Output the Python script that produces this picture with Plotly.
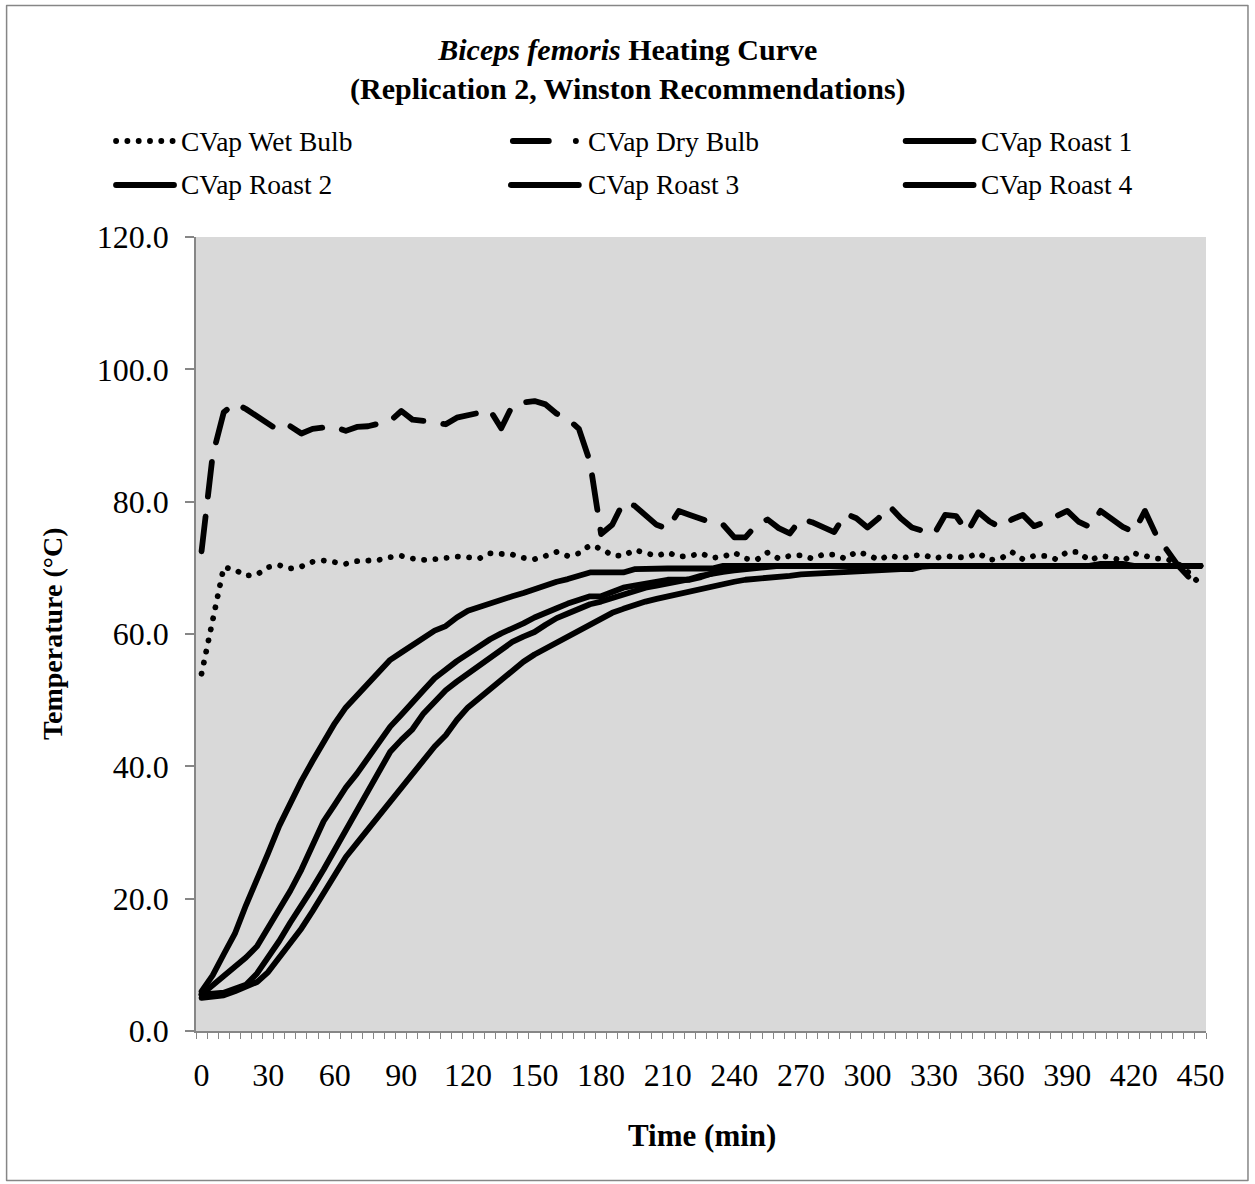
import plotly.graph_objects as go

# Sampling times (min), one reading every 5 minutes
time_min = list(range(0, 455, 5))

wet_bulb = [
    54.0, 62.5, 70.1, 69.7, 68.8, 69.0, 70.1, 70.4, 69.9, 70.2,
    70.9, 71.1, 70.9, 70.6, 71.0, 71.1, 71.2, 71.6, 71.8, 71.4,
    71.2, 71.3, 71.6, 71.7, 71.6, 71.4, 72.2, 72.2, 72.0, 71.5,
    71.3, 71.8, 72.4, 71.8, 72.2, 73.4, 72.9, 71.9, 71.8, 72.7,
    72.2, 71.8, 72.3, 71.7, 71.8, 72.2, 71.5, 71.7, 72.3, 71.4,
    71.2, 72.3, 71.4, 71.8, 71.9, 71.4, 72.0, 72.0, 71.4, 72.4,
    72.0, 71.2, 71.9, 71.4, 71.8, 72.0, 71.4, 71.8, 71.6, 71.6,
    72.2, 71.2, 71.4, 72.4, 71.3, 71.8, 71.8, 71.3, 72.4, 72.4,
    71.1, 71.8, 71.6, 71.0, 72.2, 71.8, 71.4, 71.3, 70.6, 69.2,
    67.5,
]

dry_bulb = [
    72.5, 87.0, 93.5, 94.9, 94.0, 92.8, 91.8, 90.7, 91.4, 90.3,
    91.0, 91.2, 91.3, 90.7, 91.3, 91.4, 91.8, 92.2, 93.7, 92.4,
    92.2, 92.0, 91.7, 92.7, 93.0, 93.5, 93.8, 91.1, 94.5, 95.0,
    95.2, 94.7, 93.3, 92.5, 91.0, 86.0, 75.1, 76.5, 79.9, 79.4,
    78.0, 76.5, 75.9, 78.6, 78.0, 77.3, 76.8, 76.5, 74.6, 74.6,
    76.5, 77.3, 76.0, 75.2, 77.4, 76.9, 76.2, 75.4, 78.2, 77.5,
    76.1, 77.5, 79.3, 77.5, 76.1, 75.5, 75.1, 78.0, 77.8, 75.4,
    78.4, 77.0, 76.1, 77.3, 78.0, 76.3, 76.9, 77.8, 78.6, 77.0,
    76.2, 78.6, 77.3, 76.2, 75.4, 78.6, 75.0, 72.5, 70.3, 68.5,
    66.7,
]

roast_1 = [
    6.0, 8.4, 11.6, 14.7, 19.0, 23.2, 26.9, 31.0, 34.5, 37.8,
    40.8, 43.7, 46.5, 48.9, 50.7, 52.7, 54.4, 56.1, 57.2, 58.3,
    59.4, 60.5, 61.2, 62.5, 63.5, 64.1, 64.7, 65.2, 65.7, 66.2,
    66.8, 67.4, 67.9, 68.3, 68.8, 69.3, 69.3, 69.3, 69.3, 69.8,
    69.9, 69.9, 69.9, 69.9, 69.9, 69.9, 69.9, 70.3, 70.3, 70.3,
    70.3, 70.3, 70.3, 70.3, 70.3, 70.3, 70.3, 70.3, 70.3, 70.3,
    70.3, 70.3, 70.3, 70.3, 70.3, 70.3, 70.3, 70.3, 70.3, 70.3,
    70.3, 70.3, 70.3, 70.3, 70.3, 70.3, 70.3, 70.3, 70.3, 70.3,
    70.3, 70.3, 70.3, 70.3, 70.3, 70.3, 70.3, 70.3, 70.3, 70.3,
    70.3,
]

roast_2 = [
    5.5, 6.8, 8.3, 9.7, 11.1, 12.8, 15.5, 18.5, 21.2, 24.4,
    28.3, 31.7, 34.2, 36.8, 38.9, 41.3, 43.7, 46.0, 47.8, 49.5,
    51.5, 53.3, 54.7, 55.9, 57.0, 58.2, 59.2, 60.1, 60.8, 61.6,
    62.5, 63.3, 63.9, 64.6, 65.2, 65.7, 65.7, 66.3, 67.0, 67.3,
    67.6, 67.9, 68.2, 68.2, 68.2, 68.6, 69.2, 69.7, 70.0, 70.2,
    70.3, 70.3, 70.3, 70.3, 70.3, 70.3, 70.3, 70.3, 70.3, 70.3,
    70.3, 70.3, 70.3, 70.3, 70.3, 70.3, 70.3, 70.3, 70.3, 70.3,
    70.3, 70.3, 70.3, 70.3, 70.3, 70.3, 70.3, 70.3, 70.3, 70.3,
    70.3, 70.6, 70.7, 70.6, 70.3, 70.3, 70.3, 70.3, 70.3, 70.3,
    70.3,
]

roast_3 = [
    5.5, 5.6, 5.8, 6.4, 7.0, 8.7, 11.0, 13.6, 16.4, 18.9,
    21.6, 24.4, 27.3, 30.2, 33.2, 36.0, 39.2, 42.2, 44.0, 45.6,
    48.0, 49.9, 51.5, 52.8, 54.0, 55.4, 56.6, 57.7, 58.8, 59.6,
    60.3, 61.4, 62.4, 63.1, 63.8, 64.5, 64.9, 65.4, 66.0, 66.6,
    67.0, 67.3, 67.6, 67.8, 68.3, 68.8, 69.2, 69.4, 69.6, 69.8,
    70.0, 70.3, 70.3, 70.3, 70.3, 70.3, 70.3, 70.3, 70.3, 70.3,
    70.3, 70.3, 70.3, 70.3, 70.3, 70.3, 70.3, 70.3, 70.3, 70.3,
    70.3, 70.3, 70.3, 70.3, 70.3, 70.3, 70.3, 70.3, 70.3, 70.3,
    70.3, 70.3, 70.3, 70.3, 70.3, 70.3, 70.3, 70.3, 70.3, 70.3,
    70.3,
]

roast_4 = [
    5.0, 5.3, 5.4, 6.0, 6.6, 7.4, 8.9, 11.0, 13.3, 15.5,
    18.1, 20.8, 23.6, 26.3, 28.4, 30.5, 32.8, 34.8, 36.8, 39.0,
    41.2, 43.0, 44.7, 47.0, 48.9, 50.3, 51.8, 53.2, 54.6, 55.8,
    56.9, 57.8, 58.7, 59.6, 60.5, 61.4, 62.4, 63.2, 63.8, 64.4,
    64.9, 65.3, 65.7, 66.1, 66.5, 66.9, 67.3, 67.6, 67.9, 68.2,
    68.3, 68.5, 68.7, 68.8, 69.0, 69.1, 69.3, 69.3, 69.4, 69.5,
    69.6, 69.6, 69.7, 69.8, 69.8, 70.2, 70.3, 70.3, 70.3, 70.3,
    70.3, 70.3, 70.3, 70.3, 70.3, 70.3, 70.3, 70.3, 70.3, 70.3,
    70.3, 70.3, 70.3, 70.3, 70.3, 70.3, 70.3, 70.3, 70.3, 70.3,
    70.3,
]

x_tick_vals = list(range(0, 451, 30))
y_tick_vals = [0, 20, 40, 60, 80, 100, 120]

series_names = ["CVap Wet Bulb", "CVap Dry Bulb", "CVap Roast 1",
                "CVap Roast 2", "CVap Roast 3", "CVap Roast 4"]

# ---- page geometry (pixels) ----
W, H = 1255, 1184
ML, MR, MT, MB = 196, 48.5, 237, 153
PW, PH = W - ML - MR, H - MT - MB

def fx(px):
    return (px - ML) / PW

def fy(py):
    return (H - MB - py) / PH

SERIF = "Liberation Serif, Times New Roman, serif"
AXIS_GREY = "#868686"
LW = 5.8

DOT = "0.1px,11.2px"
LONG_DASH = "35px,20px"

fig = go.Figure()

fig.add_trace(go.Scatter(x=time_min, y=wet_bulb, mode="lines", name=series_names[0],
                         line=dict(color="black", width=LW, dash=DOT)))
fig.add_trace(go.Scatter(x=time_min, y=dry_bulb, mode="lines", name=series_names[1],
                         line=dict(color="black", width=LW, dash=LONG_DASH)))
for nm, vals in zip(series_names[2:], [roast_1, roast_2, roast_3, roast_4]):
    fig.add_trace(go.Scatter(x=time_min, y=vals, mode="lines", name=nm,
                             line=dict(color="black", width=LW)))

shapes = []
annotations = []

# outer chart frame
shapes.append(dict(type="rect", xref="paper", yref="paper",
                   x0=fx(6.5), x1=fx(1248.5), y0=fy(1180.5), y1=fy(5.5),
                   line=dict(color=AXIS_GREY, width=1.5), fillcolor="rgba(0,0,0,0)",
                   layer="below"))

# legend (two rows, three columns)
legend_rows = [141, 185]
legend_cols = [(116, 174, 179), (511, 579, 586), (906, 974, 979)]
for i, nm in enumerate(series_names):
    r, c = divmod(i, 3)
    x0, x1, xt = legend_cols[c]
    y = legend_rows[r]
    if i == 0:
        shapes.append(dict(type="line", xref="paper", yref="paper",
                           x0=fx(x0), x1=fx(x1 + 2), y0=fy(y), y1=fy(y),
                           line=dict(color="black", width=LW, dash=DOT)))
    elif i == 1:
        shapes.append(dict(type="line", xref="paper", yref="paper",
                           x0=fx(x0 + 2), x1=fx(x0 + 38), y0=fy(y), y1=fy(y),
                           line=dict(color="black", width=LW)))
        shapes.append(dict(type="line", xref="paper", yref="paper",
                           x0=fx(x1 - 3), x1=fx(x1 - 2.9), y0=fy(y), y1=fy(y),
                           line=dict(color="black", width=LW)))
    else:
        shapes.append(dict(type="line", xref="paper", yref="paper",
                           x0=fx(x0), x1=fx(x1), y0=fy(y), y1=fy(y),
                           line=dict(color="black", width=LW)))
    annotations.append(dict(text=nm, xref="paper", yref="paper", x=fx(xt), y=fy(y),
                            xanchor="left", yanchor="middle", showarrow=False,
                            font=dict(family=SERIF, size=27.5, color="black")))

# two-line title
annotations.append(dict(text="<b><i>Biceps femoris</i> Heating Curve</b><br>"
                             "<b>(Replication 2, Winston Recommendations)</b>",
                        xref="paper", yref="paper", x=fx(628), y=fy(69.5),
                        xanchor="center", yanchor="middle", showarrow=False,
                        font=dict(family=SERIF, size=30, color="black")))

# axis titles
annotations.append(dict(text="<b>Time (min)</b>", xref="paper", yref="paper",
                        x=fx(702), y=fy(1135), xanchor="center", yanchor="middle",
                        showarrow=False, font=dict(family=SERIF, size=31, color="black")))
annotations.append(dict(text="<b>Temperature (°C)</b>", xref="paper", yref="paper",
                        x=fx(52), y=fy(634), xanchor="center", yanchor="middle",
                        textangle=-90, showarrow=False,
                        font=dict(family=SERIF, size=28, color="black")))

fig.update_layout(
    width=W, height=H,
    margin=dict(l=ML, r=MR, t=MT, b=MB, pad=0),
    paper_bgcolor="white",
    plot_bgcolor="#d9d9d9",
    showlegend=False,
    shapes=shapes,
    annotations=annotations,
    font=dict(family=SERIF, color="black"),
)

fig.update_xaxes(
    range=[-2.5, 452.5],
    tickmode="array", tickvals=x_tick_vals, ticktext=[str(v) for v in x_tick_vals],
    ticks="", showgrid=False, zeroline=False,
    showline=True, linecolor=AXIS_GREY, linewidth=1.5,
    tickfont=dict(family=SERIF, size=32, color="black"),
    ticklabelstandoff=15,
    minor=dict(ticks="outside", tick0=2.5, dtick=5, ticklen=6,
               tickcolor=AXIS_GREY, tickwidth=1.2, showgrid=False),
)

fig.update_yaxes(
    range=[0, 120],
    tickmode="array", tickvals=y_tick_vals,
    ticktext=[f"{v:.1f}" for v in y_tick_vals],
    ticks="outside", ticklen=9, tickcolor=AXIS_GREY, tickwidth=1.5,
    showgrid=False, zeroline=False,
    showline=True, linecolor=AXIS_GREY, linewidth=1.5,
    tickfont=dict(family=SERIF, size=32, color="black"),
    ticklabelstandoff=10,
)

round_caps = (
    "document.querySelectorAll('.scatterlayer path.js-line, .shapelayer path')"
    ".forEach(function(p){p.style.strokeLinecap='round';p.style.strokeLinejoin='round';});"
)

fig.write_html("out.html", post_script=round_caps)
